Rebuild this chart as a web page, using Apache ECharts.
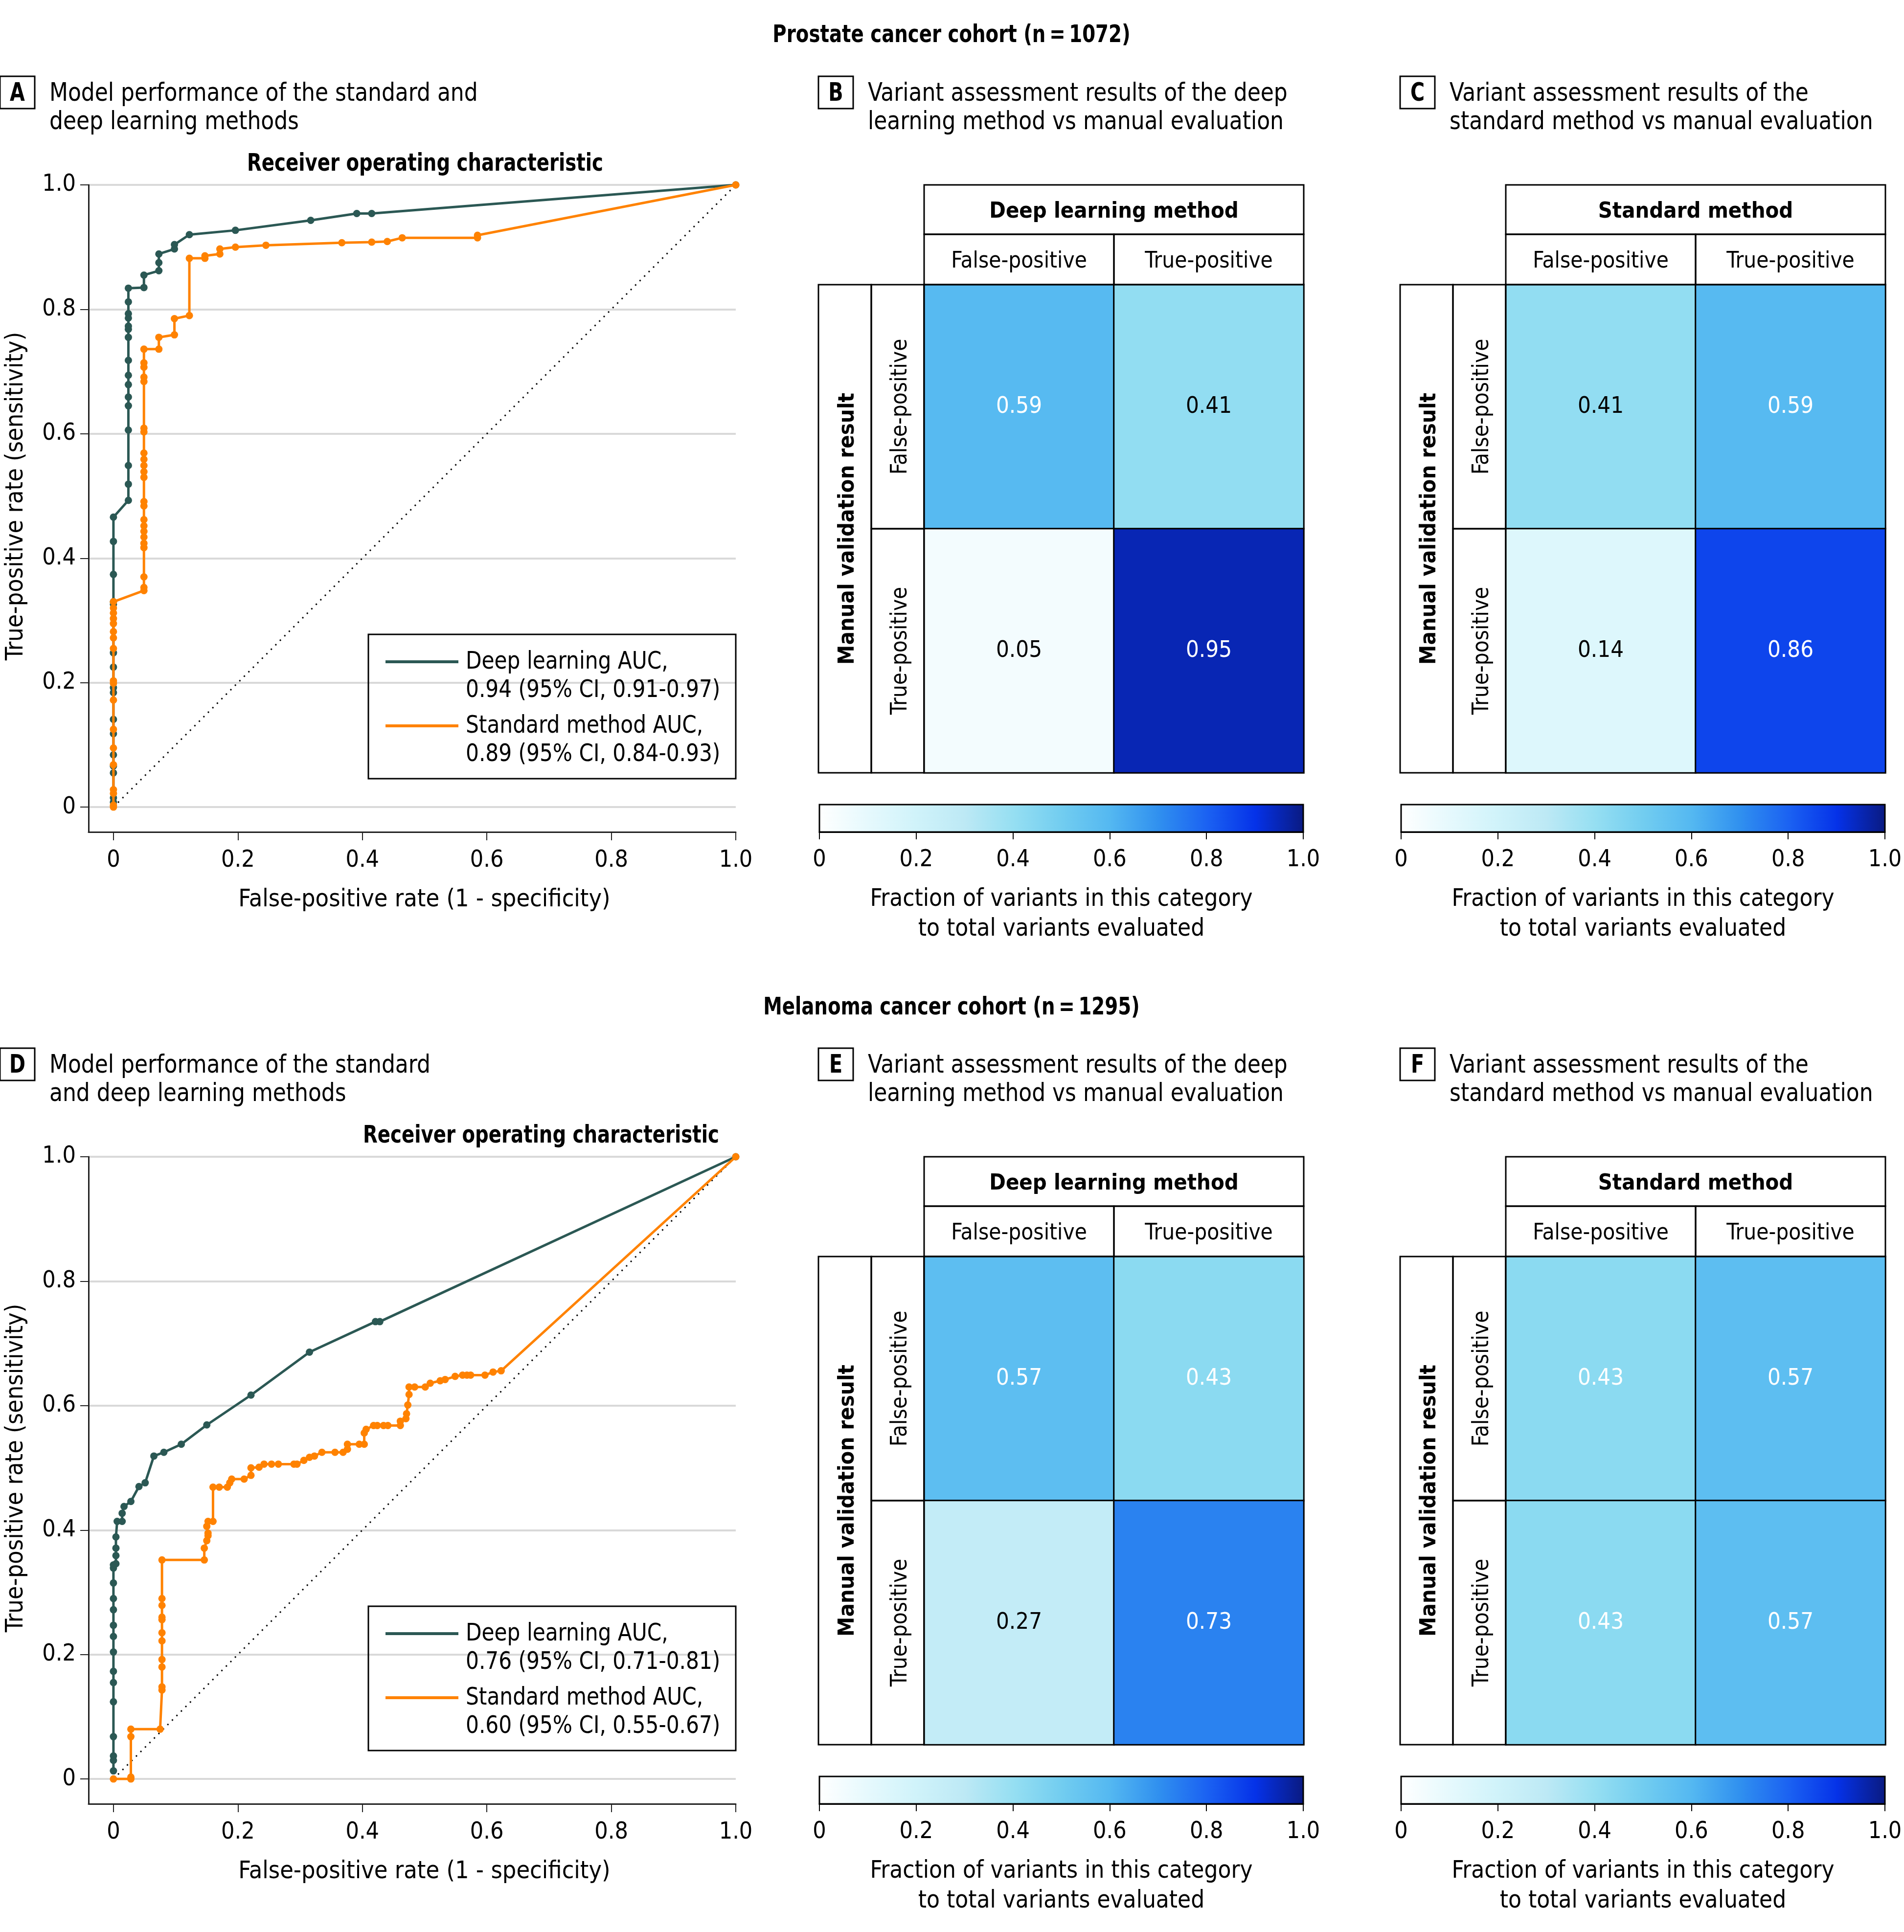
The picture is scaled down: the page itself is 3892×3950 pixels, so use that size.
<!DOCTYPE html>
<html><head><meta charset="utf-8">
<script src="https://cdn.jsdelivr.net/npm/echarts@6/dist/echarts.min.js"></script>
<style>html,body{margin:0;padding:0;background:#fff}#c{width:3892px;height:3950px}</style>
</head><body><div id="c"></div>
<script>
// ---------------- DATA ----------------
const cohortTitles = ['Prostate cancer cohort (n\u2009=\u20091072)', 'Melanoma cancer cohort (n\u2009=\u20091295)'];
const rocTitles = ['Model performance of the standard and\ndeep learning methods', 'Model performance of the standard\nand deep learning methods'];
const dlTitle = 'Variant assessment results of the deep\nlearning method vs manual evaluation';
const stdTitle = 'Variant assessment results of the\nstandard method vs manual evaluation';
const categories = ['False-positive', 'True-positive'];
const rocTicks = [0, 0.2, 0.4, 0.6, 0.8, 1.0];

const legendProstate = ['Deep learning AUC,\n0.94 (95% CI, 0.91-0.97)', 'Standard method AUC,\n0.89 (95% CI, 0.84-0.93)'];
const legendMelanoma = ['Deep learning AUC,\n0.76 (95% CI, 0.71-0.81)', 'Standard method AUC,\n0.60 (95% CI, 0.55-0.67)'];

const rocProstateDeep = [[0,0.008],[0,0.015],[0,0.055],[0,0.066],[0,0.084],[0,0.118],[0,0.141],[0,0.184],[0,0.192],[0,0.225],[0,0.248],[0,0.326],[0,0.330],[0,0.374],[0,0.427],[0,0.466],
 [0.024,0.493],[0.024,0.519],[0.024,0.549],[0.024,0.606],[0.024,0.645],[0.024,0.659],[0.024,0.679],[0.024,0.694],[0.024,0.718],[0.024,0.755],[0.024,0.768],[0.024,0.773],[0.024,0.786],[0.024,0.793],[0.024,0.812],[0.024,0.834],
 [0.049,0.835],[0.049,0.855],[0.073,0.862],[0.073,0.875],[0.073,0.889],[0.098,0.897],[0.098,0.904],[0.122,0.920],[0.196,0.927],[0.317,0.943],[0.391,0.954],[0.415,0.954],[1,1]];
const rocProstateStd = [[0,0],[0,0.003],[0,0.022],[0,0.028],[0,0.068],[0,0.095],[0,0.125],[0,0.172],[0,0.199],[0,0.203],[0,0.255],[0,0.272],[0,0.282],[0,0.295],[0,0.303],[0,0.312],[0,0.320],[0,0.330],
 [0.049,0.348],[0.049,0.353],[0.049,0.370],[0.049,0.417],[0.049,0.424],[0.049,0.434],[0.049,0.443],[0.049,0.452],[0.049,0.462],[0.049,0.484],[0.049,0.491],[0.049,0.530],[0.049,0.539],[0.049,0.549],[0.049,0.559],[0.049,0.569],[0.049,0.603],[0.049,0.609],[0.049,0.684],[0.049,0.691],[0.049,0.707],[0.049,0.714],[0.049,0.736],
 [0.073,0.736],[0.073,0.755],[0.098,0.759],[0.098,0.785],[0.122,0.790],[0.122,0.882],[0.147,0.882],[0.147,0.886],[0.171,0.889],[0.171,0.897],[0.196,0.900],[0.245,0.903],[0.367,0.907],[0.415,0.908],[0.440,0.909],[0.464,0.915],[0.585,0.915],[0.585,0.919],[1,1]];
const rocMelanomaDeep = [[0,0.013],[0,0.030],[0,0.037],[0,0.068],[0,0.124],[0,0.155],[0,0.173],[0,0.204],[0,0.229],[0,0.247],[0,0.272],[0,0.290],[0,0.315],[0,0.339],[0,0.344],
 [0.004,0.346],[0.004,0.359],[0.004,0.371],[0.004,0.389],[0.006,0.414],[0.014,0.414],[0.014,0.427],[0.017,0.438],[0.028,0.446],[0.041,0.470],[0.051,0.476],[0.065,0.519],[0.081,0.525],[0.109,0.538],[0.150,0.569],[0.221,0.617],[0.315,0.686],[0.421,0.735],[0.428,0.735],[1,1]];
const rocMelanomaStd = [[0,0],[0.028,0],[0.028,0.003],[0.028,0.068],[0.028,0.080],[0.075,0.080],[0.078,0.143],[0.078,0.148],[0.078,0.180],[0.078,0.192],[0.078,0.222],[0.078,0.235],[0.078,0.256],[0.078,0.260],[0.078,0.279],[0.078,0.290],[0.078,0.352],
 [0.146,0.352],[0.146,0.371],[0.150,0.383],[0.152,0.391],[0.152,0.395],[0.150,0.406],[0.152,0.414],[0.160,0.414],[0.160,0.469],[0.170,0.469],[0.183,0.469],[0.187,0.476],[0.190,0.482],[0.210,0.482],[0.221,0.488],[0.221,0.500],[0.234,0.501],[0.242,0.506],[0.254,0.506],[0.265,0.506],[0.290,0.506],[0.295,0.506],[0.306,0.512],[0.315,0.517],[0.323,0.519],[0.335,0.525],[0.356,0.525],[0.369,0.525],[0.376,0.530],[0.376,0.538],[0.395,0.538],[0.403,0.538],[0.403,0.556],[0.406,0.562],[0.418,0.568],[0.424,0.568],[0.434,0.568],[0.441,0.568],[0.461,0.568],[0.461,0.575],[0.470,0.579],[0.471,0.587],[0.473,0.601],[0.475,0.618],[0.475,0.630],
 [0.484,0.630],[0.501,0.630],[0.509,0.636],[0.525,0.640],[0.533,0.642],[0.549,0.647],[0.561,0.649],[0.568,0.649],[0.574,0.649],[0.597,0.649],[0.610,0.654],[0.623,0.656],[1,1]];
const chanceLine = [[0,0],[1,1]];

// Confusion fractions: rows = manual validation (FP, TP), cols = method (FP, TP)
const heatProstateDeep = [[0.59, 0.41], [0.05, 0.95]];
const heatProstateStd  = [[0.41, 0.59], [0.14, 0.86]];
const heatMelanomaDeep = [[0.57, 0.43], [0.27, 0.73]];
const heatMelanomaStd  = [[0.43, 0.57], [0.43, 0.57]];
const colorbarRange = [[0, 0, 1, 1]];

// ---------------- STYLE / LAYOUT ----------------
const FONT = "'Liberation Sans Narrow','DejaVu Sans Condensed','Noto Sans',sans-serif";
const FS_TICK = 48, FS_AXNAME = 50, FS_CAT = 45.5, FS_CELL = 47, FS_HEAD = 45;
const C_DL = '#2b5854', C_STD = '#ff8200';
const heatColors = ['#ffffff','#e6f9fd','#d0f3fa','#bde9f5','#96dff2','#72cdf0','#54b8f1','#3090ef','#1b62f2','#0532e8','#0a1a80'];
const OFF = [0, 1987];

const grids = [], xAxes = [], yAxes = [], series = [], graphics = [];
const heatSeriesIdx = [];

// graphic text; sx compresses glyphs horizontally to mimic the narrow typeface
function T(x, y, text, o) {
  o = o || {};
  return { type: 'text', x: x, y: y, rotation: o.rot || 0, scaleX: o.sx || 1, z: 100, silent: true,
    style: { text: text, fill: '#000', fontSize: o.size || 52, fontWeight: o.bold ? 'bold' : 'normal', fontFamily: FONT,
      align: o.align || 'left', verticalAlign: 'middle', textAlign: o.align || 'left', textVerticalAlign: 'middle', lineHeight: o.lh || 58 } };
}
function R(x, y, w, h, lw) {
  return { type: 'rect', z: 100, silent: true, shape: { x: x, y: y, width: w, height: h }, style: { fill: 'none', stroke: '#000', lineWidth: lw || 3 } };
}
function L(x1, y1, x2, y2, color, lw) {
  return { type: 'line', z: 100, silent: true, shape: { x1: x1, y1: y1, x2: x2, y2: y2 }, style: { stroke: color, lineWidth: lw || 6 } };
}
const fmt = v => (v === 0 ? '0' : v.toFixed(1));

function addRoc(cohort, deep, std, legendNames, titleX) {
  const dy = OFF[cohort];
  const gi = grids.length;
  grids.push({ left: 181, top: 378 + dy, width: 1323, height: 1323 });
  xAxes.push({ gridIndex: gi, type: 'value', min: -0.04, max: 1,
    axisLine: { show: true, onZero: false, lineStyle: { color: '#222', width: 3 } },
    axisTick: { show: true, length: 17, lineStyle: { color: '#222', width: 2 }, customValues: rocTicks },
    axisLabel: { customValues: rocTicks, margin: 35, fontSize: FS_TICK, color: '#000', fontFamily: FONT, formatter: fmt },
    splitLine: { show: false },
    name: 'False-positive rate (1 - specificity)', nameLocation: 'middle', nameGap: 114,
    nameTextStyle: { fontSize: FS_AXNAME, color: '#000', fontFamily: FONT, padding: [0, 0, 0, 50] } });
  yAxes.push({ gridIndex: gi, type: 'value', min: -0.04, max: 1,
    axisLine: { show: true, onZero: false, lineStyle: { color: '#222', width: 3 } },
    axisTick: { show: true, length: 17, lineStyle: { color: '#222', width: 2 }, customValues: rocTicks },
    axisLabel: { customValues: rocTicks, margin: 26, fontSize: FS_TICK, color: '#000', fontFamily: FONT, formatter: fmt },
    splitLine: { show: true, lineStyle: { color: '#d9d9d9', width: 4 } },
    name: 'True-positive rate (sensitivity)', nameLocation: 'middle', nameGap: 123,
    nameTextStyle: { fontSize: FS_AXNAME, color: '#000', fontFamily: FONT, padding: [0, 0, 0, 50] } });
  series.push({ type: 'line', xAxisIndex: gi, yAxisIndex: gi, data: chanceLine, symbol: 'none', silent: true,
    lineStyle: { color: '#000', width: 3, type: [3, 10] }, z: 1 });
  series.push({ type: 'line', name: legendNames[0], xAxisIndex: gi, yAxisIndex: gi, data: deep, clip: false,
    symbol: 'circle', symbolSize: 15, showSymbol: true, showAllSymbol: true,
    lineStyle: { color: C_DL, width: 5 }, itemStyle: { color: C_DL }, z: 2 });
  series.push({ type: 'line', name: legendNames[1], xAxisIndex: gi, yAxisIndex: gi, data: std, clip: false,
    symbol: 'circle', symbolSize: 15, showSymbol: true, showAllSymbol: true,
    lineStyle: { color: C_STD, width: 5 }, itemStyle: { color: C_STD }, z: 3 });
  graphics.push(T(titleX, 336 + dy, 'Receiver operating characteristic', { bold: true, align: 'center', size: 50, sx: 0.86 }));
  graphics.push(R(753, 1297 + dy, 751, 295, 3));
  graphics.push(L(788, 1353 + dy, 937, 1353 + dy, C_DL, 6));
  graphics.push(L(788, 1484 + dy, 937, 1484 + dy, C_STD, 6));
  graphics.push(T(952, 1383 + dy, legendNames[0], { lh: 58, size: 50, sx: 0.94 }));
  graphics.push(T(952, 1514 + dy, legendNames[1], { lh: 58, size: 50, sx: 0.94 }));
}

function addHeat(cohort, baseX, values, methodName) {
  const dy = OFF[cohort];
  const gi = grids.length;
  const cellL = baseX + 216, cellT = 582 + dy, cw = 776, ch = 998;
  grids.push({ left: cellL, top: cellT, width: cw, height: ch });
  xAxes.push({ gridIndex: gi, type: 'category', data: categories, position: 'top',
    axisLine: { show: false }, axisTick: { show: false }, splitLine: { show: false },
    axisLabel: { interval: 0, margin: 24, fontSize: FS_CAT, color: '#000', fontFamily: FONT },
    name: methodName, nameLocation: 'middle', nameGap: 126,
    nameTextStyle: { fontSize: FS_HEAD, fontWeight: 'bold', color: '#000', fontFamily: FONT } });
  yAxes.push({ gridIndex: gi, type: 'category', data: categories, inverse: true,
    axisLine: { show: false }, axisTick: { show: false }, splitLine: { show: false },
    axisLabel: { interval: 0, rotate: 90, margin: 25, fontSize: FS_CAT, color: '#000', fontFamily: FONT },
    name: 'Manual validation result', nameLocation: 'middle', nameGap: 133, nameRotate: 90,
    nameTextStyle: { fontSize: FS_HEAD, fontWeight: 'bold', color: '#000', fontFamily: FONT } });
  const data = [];
  values.forEach((row, r) => row.forEach((v, c) => {
    data.push({ value: [c, r, v], label: { color: v > 0.42 ? '#ffffff' : '#000000' } });
  }));
  heatSeriesIdx.push(series.length);
  series.push({ type: 'heatmap', xAxisIndex: gi, yAxisIndex: gi, data: data, silent: true,
    itemStyle: { borderColor: '#000', borderWidth: 3 },
    label: { show: true, fontSize: FS_CELL, fontFamily: FONT, formatter: p => p.value[2].toFixed(2) },
    emphasis: { disabled: true } });
  graphics.push(R(cellL, 378 + dy, cw, 101));
  graphics.push(R(cellL, 479 + dy, cw / 2, 103));
  graphics.push(R(cellL + cw / 2, 479 + dy, cw / 2, 103));
  graphics.push(R(baseX, cellT, 108, ch));
  graphics.push(R(baseX + 108, cellT, 108, ch / 2));
  graphics.push(R(baseX + 108, cellT + ch / 2, 108, ch / 2));

  // colorbar
  const cg = grids.length;
  grids.push({ left: baseX + 2, top: 1645 + dy, width: 989, height: 56 });
  xAxes.push({ gridIndex: cg, type: 'value', min: 0, max: 1, interval: 0.2,
    axisLine: { show: true, lineStyle: { color: '#000', width: 3 } },
    axisTick: { show: true, length: 15, lineStyle: { color: '#000', width: 2 } },
    axisLabel: { margin: 34, fontSize: FS_TICK, color: '#000', fontFamily: FONT, formatter: fmt },
    splitLine: { show: false },
    name: 'Fraction of variants in this category\nto total variants evaluated', nameLocation: 'middle', nameGap: 108,
    nameTextStyle: { fontSize: 49, color: '#000', fontFamily: FONT, lineHeight: 61 } });
  yAxes.push({ gridIndex: cg, type: 'value', min: 0, max: 1, show: false });
  series.push({ type: 'custom', xAxisIndex: cg, yAxisIndex: cg, data: colorbarRange, silent: true,
    renderItem: function (params, api) {
      const p0 = api.coord([api.value(0), api.value(3)]);
      const p1 = api.coord([api.value(2), api.value(1)]);
      return { type: 'rect', shape: { x: p0[0], y: p0[1], width: p1[0] - p0[0], height: p1[1] - p0[1] },
        style: { fill: new echarts.graphic.LinearGradient(0, 0, 1, 0, heatColors.map((c, i) => ({ offset: i / (heatColors.length - 1), color: c }))),
          stroke: '#000', lineWidth: 3 } };
    } });
}

function panelHeader(letter, boxX, textX, cohort, title) {
  const dy = OFF[cohort];
  graphics.push(R(boxX, 156 + dy, 71, 66, 3));
  graphics.push(T(boxX + 35.5, 192 + dy, letter, { bold: true, align: 'center', size: 52, sx: 0.85 }));
  graphics.push(T(textX, 221 + dy, title, { lh: 58, size: 52, sx: 0.94 }));
}

addRoc(0, rocProstateDeep, rocProstateStd, legendProstate, 869);
addRoc(1, rocMelanomaDeep, rocMelanomaStd, legendMelanoma, 1106);
addHeat(0, 1673, heatProstateDeep, 'Deep learning method');
addHeat(0, 2862, heatProstateStd, 'Standard method');
addHeat(1, 1673, heatMelanomaDeep, 'Deep learning method');
addHeat(1, 2862, heatMelanomaStd, 'Standard method');

panelHeader('A', 0, 101, 0, rocTitles[0]);
panelHeader('B', 1673, 1774, 0, dlTitle);
panelHeader('C', 2862, 2963, 0, stdTitle);
panelHeader('D', 0, 101, 1, rocTitles[1]);
panelHeader('E', 1673, 1774, 1, dlTitle);
panelHeader('F', 2862, 2963, 1, stdTitle);
graphics.push(T(1945, 73, cohortTitles[0], { bold: true, align: 'center', size: 50, sx: 0.86 }));
graphics.push(T(1945, 73 + 1988, cohortTitles[1], { bold: true, align: 'center', size: 50, sx: 0.86 }));

const chart = echarts.init(document.getElementById('c'), null, { renderer: 'canvas' });
chart.setOption({
  animation: false,
  backgroundColor: '#ffffff',
  textStyle: { fontFamily: FONT },
  grid: grids, xAxis: xAxes, yAxis: yAxes, series: series,
  visualMap: { type: 'continuous', show: false, min: 0, max: 1, dimension: 2, seriesIndex: heatSeriesIdx, inRange: { color: heatColors } },
  graphic: { elements: graphics }
});
</script></body></html>
